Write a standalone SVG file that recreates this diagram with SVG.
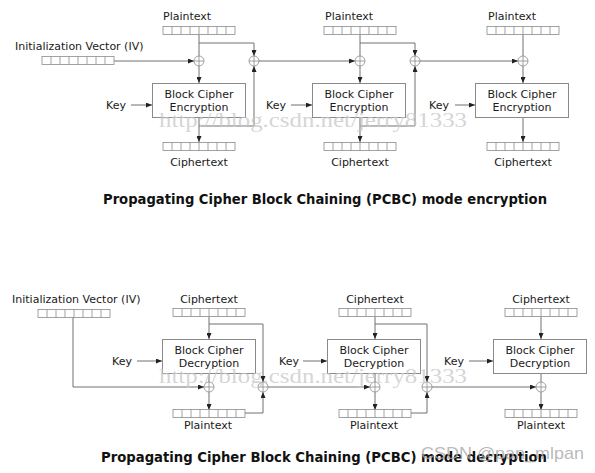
<svg xmlns="http://www.w3.org/2000/svg" xmlns:xlink="http://www.w3.org/1999/xlink" width="595" height="473" viewBox="0 0 595 473">
<style>
  .lbl { font-family: "DejaVu Sans", "Liberation Sans", sans-serif; font-size: 11px; fill: #1a1a1a; }
  .mid { text-anchor: middle; }
  .title { font-family: "DejaVu Sans", "Liberation Sans", sans-serif; font-size: 14px; font-weight: bold; fill: #111; }
  .box { fill: #fff; stroke: #8a8a8a; stroke-width: 1; }
  .reg { fill: #fff; stroke: #8a8a8a; stroke-width: 0.8; }
  .wire { fill: none; stroke: #707070; stroke-width: 1; }
  .arr { fill: none; stroke: #707070; stroke-width: 1; marker-end: url(#ah); }
  .xor { fill: #fff; stroke: #8a8a8a; stroke-width: 0.8; }
  .wm { font-family: "Liberation Serif", "DejaVu Serif", serif; font-size: 20px; fill: #c8c8c8; fill-opacity: 0.75; }
  .wm2 { font-family: "Liberation Sans", "DejaVu Sans", sans-serif; font-size: 17px; fill: #a8a8a8; fill-opacity: 0.8; }
</style>
<defs>
  <marker id="ah" markerWidth="6" markerHeight="5" refX="6" refY="2.5" orient="auto" markerUnits="userSpaceOnUse">
    <path d="M0,0 L6,2.5 L0,5 Z" fill="#222"/>
  </marker>
  <g id="regbox">
    <rect class="reg" x="0" y="0" width="72" height="8"/>
    <path class="reg" d="M9,0V8M18,0V8M27,0V8M36,0V8M45,0V8M54,0V8M63,0V8"/>
  </g>
  <g id="xorsym">
    <circle class="xor" cx="0" cy="0" r="5"/>
    <path class="xor" d="M-5,0H5M0,-5V5" fill="none"/>
  </g>
</defs>
<rect width="595" height="473" fill="#fff"/>

<!-- ===== Encryption ===== -->
<g id="connectors-enc">
  <path class="arr" d="M114,61H194"/>
  <path class="wire" d="M199,35V56"/>
  <path class="arr" d="M199,43H254V56"/>
  <path class="arr" d="M199,66V83"/>
  <path class="arr" d="M199,117V142"/>
  <path class="arr" d="M199,126H254V66"/>
  <path class="arr" d="M259,61H355"/>
  <path class="wire" d="M360,35V56"/>
  <path class="arr" d="M360,43H415V56"/>
  <path class="arr" d="M360,66V83"/>
  <path class="arr" d="M360,117V142"/>
  <path class="arr" d="M360,126H415V66"/>
  <path class="arr" d="M420,61H518"/>
  <path class="wire" d="M523,35V56"/>
  <path class="arr" d="M523,66V83"/>
  <path class="arr" d="M523,117V142"/>
  <path class="arr" d="M131,105H152"/>
  <path class="arr" d="M291,105H312"/>
  <path class="arr" d="M455,105H475"/>
</g>

<g id="enc-iv">
  <text class="lbl" x="15" y="50">Initialization Vector (IV)</text>
  <use xlink:href="#regbox" x="42" y="56.5"/>
</g>
<g id="enc-p1">
  <text class="lbl" x="163" y="20">Plaintext</text>
  <use xlink:href="#regbox" x="163" y="26.5"/>
</g>
<g id="enc-p2">
  <text class="lbl" x="325" y="20">Plaintext</text>
  <use xlink:href="#regbox" x="324" y="26.5"/>
</g>
<g id="enc-p3">
  <text class="lbl" x="488" y="20">Plaintext</text>
  <use xlink:href="#regbox" x="487" y="26.5"/>
</g>
<g id="enc-x1"><use xlink:href="#xorsym" x="199" y="61"/></g>
<g id="enc-x2"><use xlink:href="#xorsym" x="254" y="61"/></g>
<g id="enc-x3"><use xlink:href="#xorsym" x="360" y="61"/></g>
<g id="enc-x4"><use xlink:href="#xorsym" x="415" y="61"/></g>
<g id="enc-x5"><use xlink:href="#xorsym" x="523" y="61"/></g>
<g id="enc-b1">
  <rect class="box" x="152.5" y="83.5" width="93" height="34"/>
  <text class="lbl mid" x="199" y="98">Block Cipher</text>
  <text class="lbl mid" x="199" y="111">Encryption</text>
</g>
<g id="enc-b2">
  <rect class="box" x="312.5" y="83.5" width="93" height="34"/>
  <text class="lbl mid" x="359" y="98">Block Cipher</text>
  <text class="lbl mid" x="359" y="111">Encryption</text>
</g>
<g id="enc-b3">
  <rect class="box" x="475.5" y="83.5" width="93" height="34"/>
  <text class="lbl mid" x="522" y="98">Block Cipher</text>
  <text class="lbl mid" x="522" y="111">Encryption</text>
</g>
<g id="enc-k1"><text class="lbl" x="106" y="109">Key</text></g>
<g id="enc-k2"><text class="lbl" x="266" y="109">Key</text></g>
<g id="enc-k3"><text class="lbl" x="429" y="109">Key</text></g>
<g id="enc-c1">
  <use xlink:href="#regbox" x="163" y="142.5"/>
  <text class="lbl mid" x="199" y="166">Ciphertext</text>
</g>
<g id="enc-c2">
  <use xlink:href="#regbox" x="324" y="142.5"/>
  <text class="lbl mid" x="360" y="166">Ciphertext</text>
</g>
<g id="enc-c3">
  <use xlink:href="#regbox" x="487" y="142.5"/>
  <text class="lbl mid" x="523" y="166">Ciphertext</text>
</g>
<text class="title" x="103" y="204" textLength="444" lengthAdjust="spacingAndGlyphs">Propagating Cipher Block Chaining (PCBC) mode encryption</text>

<!-- ===== Decryption ===== -->
<g id="connectors-dec">
  <path class="arr" d="M73,317V387H204"/>
  <path class="arr" d="M209,317V339"/>
  <path class="arr" d="M209,324H263V382"/>
  <path class="wire" d="M209,373V382"/>
  <path class="arr" d="M209,392V410"/>
  <path class="arr" d="M245,413H263V392"/>
  <path class="arr" d="M268,387H370"/>
  <path class="arr" d="M375,317V339"/>
  <path class="arr" d="M375,324H427V382"/>
  <path class="wire" d="M375,373V382"/>
  <path class="arr" d="M375,392V410"/>
  <path class="arr" d="M411,413H427V392"/>
  <path class="arr" d="M432,387H536"/>
  <path class="arr" d="M541,317V339"/>
  <path class="wire" d="M541,373V382"/>
  <path class="arr" d="M541,392V410"/>
  <path class="arr" d="M137,361H162"/>
  <path class="arr" d="M303,361H327"/>
  <path class="arr" d="M469,361H493"/>
</g>

<g id="dec-iv">
  <text class="lbl" x="12" y="303">Initialization Vector (IV)</text>
  <use xlink:href="#regbox" x="38" y="309.5"/>
</g>
<g id="dec-c1">
  <text class="lbl mid" x="209" y="303">Ciphertext</text>
  <use xlink:href="#regbox" x="173" y="308.5"/>
</g>
<g id="dec-c2">
  <text class="lbl mid" x="375" y="303">Ciphertext</text>
  <use xlink:href="#regbox" x="339" y="308.5"/>
</g>
<g id="dec-c3">
  <text class="lbl mid" x="541" y="303">Ciphertext</text>
  <use xlink:href="#regbox" x="505" y="308.5"/>
</g>
<g id="dec-b1">
  <rect class="box" x="162.5" y="339.5" width="93" height="34"/>
  <text class="lbl mid" x="209" y="354">Block Cipher</text>
  <text class="lbl mid" x="209" y="367">Decryption</text>
</g>
<g id="dec-b2">
  <rect class="box" x="327.5" y="339.5" width="93" height="34"/>
  <text class="lbl mid" x="374" y="354">Block Cipher</text>
  <text class="lbl mid" x="374" y="367">Decryption</text>
</g>
<g id="dec-b3">
  <rect class="box" x="493.5" y="339.5" width="93" height="34"/>
  <text class="lbl mid" x="540" y="354">Block Cipher</text>
  <text class="lbl mid" x="540" y="367">Decryption</text>
</g>
<g id="dec-k1"><text class="lbl" x="112" y="365">Key</text></g>
<g id="dec-k2"><text class="lbl" x="279" y="365">Key</text></g>
<g id="dec-k3"><text class="lbl" x="444" y="365">Key</text></g>
<g id="dec-x1"><use xlink:href="#xorsym" x="209" y="387"/></g>
<g id="dec-x2"><use xlink:href="#xorsym" x="263" y="387"/></g>
<g id="dec-x3"><use xlink:href="#xorsym" x="375" y="387"/></g>
<g id="dec-x4"><use xlink:href="#xorsym" x="427" y="387"/></g>
<g id="dec-x5"><use xlink:href="#xorsym" x="541" y="387"/></g>
<g id="dec-p1">
  <use xlink:href="#regbox" x="173" y="409.5"/>
  <text class="lbl mid" x="208" y="429">Plaintext</text>
</g>
<g id="dec-p2">
  <use xlink:href="#regbox" x="339" y="409.5"/>
  <text class="lbl mid" x="374" y="429">Plaintext</text>
</g>
<g id="dec-p3">
  <use xlink:href="#regbox" x="505" y="409.5"/>
  <text class="lbl mid" x="541" y="429">Plaintext</text>
</g>
<text class="title" x="101" y="462" textLength="446" lengthAdjust="spacingAndGlyphs">Propagating Cipher Block Chaining (PCBC) mode decryption</text>

<!-- watermarks -->
<text class="wm" x="159" y="127" textLength="308" lengthAdjust="spacingAndGlyphs">http://blog.csdn.net/jerry81333</text>
<text class="wm" x="159" y="383" textLength="308" lengthAdjust="spacingAndGlyphs">http://blog.csdn.net/jerry81333</text>
<text class="wm2" x="421" y="459" textLength="163" lengthAdjust="spacingAndGlyphs">CSDN @pan_mlpan</text>
</svg>
